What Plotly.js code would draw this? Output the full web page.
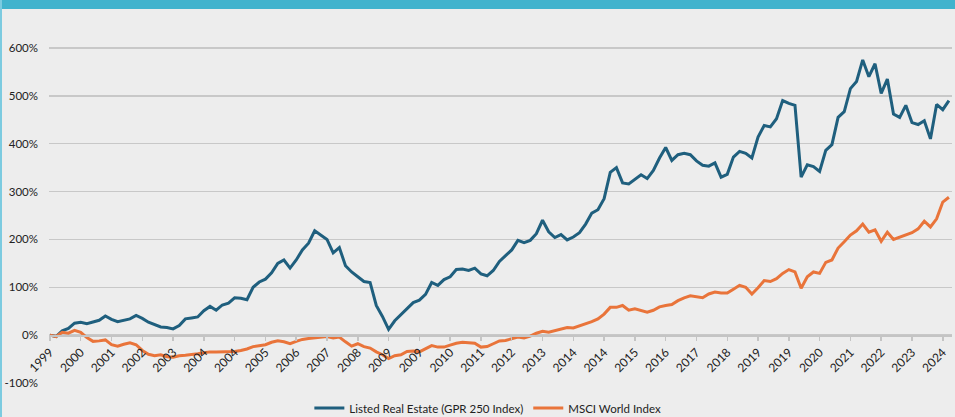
<!DOCTYPE html>
<html>
<head>
<meta charset="utf-8">
<script src="https://cdn.plot.ly/plotly-3.0.1.min.js"></script>
<style>
  html, body { margin: 0; padding: 0; background: #ededed; }
  #wrap { position: relative; width: 955px; height: 417px; overflow: hidden; }
  #chart { position: absolute; left: 0; top: 0; width: 955px; height: 417px; }
  #topbar { position: absolute; left: 0; top: 0; width: 955px; height: 9px; background: #41b3cd; }
  #leftbar { position: absolute; left: 0; top: 0; width: 2px; height: 417px; background: #7ccbe0; }
</style>
</head>
<body>
<div id="wrap">
  <div id="chart"></div>
  <div id="topbar"></div>
  <div id="leftbar"></div>
</div>
<script>
// Monthly index positions start at Dec 1999; values sampled every 2 months.
const startYear = 1999, startMonth = 11; // 0-based month (Dec)
const sampleStep = 2;

// Tick labels shown every 10 months (Excel category axis labels)
const tickLabels = ['1999','2000','2001','2002','2003','2004','2004','2005','2006','2007',
                    '2008','2009','2009','2010','2011','2012','2013','2014','2014','2015',
                    '2016','2017','2018','2019','2019','2020','2021','2022','2023','2024'];

// Listed Real Estate (GPR 250 Index) cumulative return, %
const gpr250 = [0,-3,9,14,25,27,24,28,31,40,
                33,28,31,34,41,35,27,22,17,16,
                13,20,34,36,38,51,60,52,63,67,
                78,77,74,100,111,117,130,150,157,140,
                157,178,192,218,209,200,172,183,145,132,
                122,112,110,62,39,12,30,42,55,68,
                73,85,110,104,116,122,137,138,135,140,
                128,124,135,154,166,178,198,193,198,212,
                240,216,204,210,199,205,214,232,255,262,
                285,340,350,318,316,326,335,327,344,370,
                392,365,377,380,377,364,355,353,360,330,
                336,372,384,380,370,414,438,435,452,490,
                484,480,330,356,352,342,386,398,455,467,
                515,530,575,540,567,505,535,462,455,480,
                444,440,448,410,482,471,490];

// MSCI World Index cumulative return, %
const msciWorld = [0,-3,6,4,10,6,-5,-13,-12,-10,
                   -20,-23,-19,-16,-20,-32,-40,-43,-41,-45,
                   -46,-43,-42,-41,-39,-37,-35,-35,-35,-35,
                   -34,-32,-29,-24,-22,-20,-15,-12,-14,-18,
                   -13,-9,-7,-6,-4,-3,-6,-4,-14,-23,
                   -18,-24,-27,-35,-41,-49,-43,-41,-34,-33,
                   -35,-28,-22,-25,-25,-21,-17,-15,-16,-17,
                   -25,-24,-18,-12,-11,-8,-4,-6,-2,4,
                   8,6,9,13,16,15,19,23,28,34,
                   44,58,58,62,52,55,52,48,52,59,
                   62,64,72,78,82,80,78,86,90,88,
                   88,96,104,100,86,99,114,112,118,129,
                   137,132,98,122,132,129,152,157,182,195,
                   209,218,232,215,220,196,215,200,205,210,
                   214,222,238,226,243,278,288];

const seriesNames = ['Listed Real Estate (GPR 250 Index)', 'MSCI World Index'];
const seriesColors = ['#1f5f7e', '#e9743a'];

const xIdx = gpr250.map((_, i) => i * sampleStep);
const tickVals = tickLabels.map((_, i) => i * 10);

const yMin = -100, yMax = 650;

const traces = [
  { x: xIdx, y: gpr250, type: 'scatter', mode: 'lines', name: seriesNames[0],
    line: { color: seriesColors[0], width: 3 } },
  { x: xIdx, y: msciWorld, type: 'scatter', mode: 'lines', name: seriesNames[1],
    line: { color: seriesColors[1], width: 3 } }
];

const layout = {
  width: 955, height: 417,
  margin: { l: 49, r: 3, t: 24, b: 34 },
  paper_bgcolor: '#ededed',
  plot_bgcolor: '#ededed',
  font: { family: 'Lato, "Open Sans", sans-serif', size: 11.5, color: '#222222' },
  showlegend: true,
  legend: {
    orientation: 'h', x: 0.486, xanchor: 'center',
    yref: 'container', y: 9 / 417, yanchor: 'middle',
    font: { size: 11.5, color: '#222222' }, bgcolor: 'rgba(0,0,0,0)', itemwidth: 30
  },
  xaxis: {
    range: [-0.3, 293],
    anchor: 'free', position: (0 - yMin) / (yMax - yMin),
    tickmode: 'array', tickvals: tickVals, ticktext: tickLabels,
    tickangle: -45, ticks: 'outside', ticklen: 4, tickcolor: '#c4c4c4', tickwidth: 1.5,
    showline: true, linecolor: '#c4c4c4', linewidth: 1.5,
    showgrid: false, zeroline: false, automargin: false,
    tickfont: { size: 12, color: '#222222' }
  },
  yaxis: {
    range: [yMin, yMax], automargin: false,
    tickmode: 'array', tickvals: [-100, 0, 100, 200, 300, 400, 500, 600],
    ticktext: ['-100%', '0%', '100%', '200%', '300%', '400%', '500%', '600%'],
    showgrid: true, gridcolor: '#c8c8c8', gridwidth: 1.5,
    zeroline: false, showline: false, ticks: '',
    ticklabelstandoff: 10,
    tickfont: { size: 11.5, color: '#222222' }
  }
};

Plotly.newPlot('chart', traces, layout, { displayModeBar: false, staticPlot: true });
</script>
</body>
</html>
